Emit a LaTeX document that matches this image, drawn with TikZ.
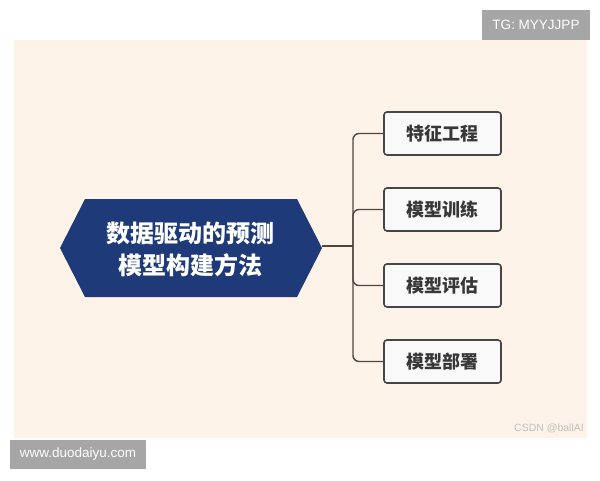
\documentclass[tikz,border=0pt]{standalone}
\usepackage{fontspec}
\setmainfont{Liberation Sans}
\newfontfamily\cjk{Noto Sans CJK SC}
\usetikzlibrary{shapes.geometric}
\definecolor{cream}{RGB}{253,243,232}
\definecolor{navy}{RGB}{30,58,120}
\definecolor{badge}{RGB}{166,166,166}
\definecolor{boxline}{RGB}{70,70,70}
\definecolor{boxfill}{RGB}{249,249,249}
\definecolor{linkc}{RGB}{80,70,65}
\definecolor{txt}{RGB}{55,55,55}
\tikzset{
  leaf/.style={draw=boxline, line width=1.6pt, fill=boxfill, rounded corners=3pt,
    minimum width=117pt, minimum height=43pt, inner sep=0pt,
    font=\cjk\bfseries\fontsize{18}{20}\selectfont, text=txt},
  link/.style={draw=linkc, line width=1.4pt, rounded corners=6pt},
  badgebox/.style={fill=badge, text=white, inner sep=0pt, font=\fontsize{13.5}{15}\selectfont}
}
\begin{document}
\begin{tikzpicture}[x=1pt,y=-1pt]
\useasboundingbox (0,0) rectangle (600,480);
\fill[white] (0,0) rectangle (600,480);
\fill[cream] (14,40) rectangle (587,438);
% badges
\node[badgebox, minimum width=108pt, minimum height=30pt] (tg) at (536,25) {TG: MYYJJPP};
\node[badgebox, minimum width=136pt, minimum height=29pt] (www) at (78,454.5) {www.duodaiyu.com};
\node[text=black!25, font=\fontsize{10.5}{12}\selectfont, anchor=east, inner sep=0pt] (csdn) at (584,428) {CSDN @ballAI};
% hexagon
\fill[navy] (60,248) -- (85,199) -- (297,199) -- (322,248) -- (297,297) -- (85,297) -- cycle;
\coordinate (hexr) at (322,246);
\node[text=white, font=\cjk\bfseries\fontsize{24}{32}\selectfont, align=center] (root) at (190,249) {数据驱动的预测\\模型构建方法};
% leaves
\node[leaf] (l1) at (442.5,133.5) {特征工程};
\node[leaf] (l2) at (442.5,209.5) {模型训练};
\node[leaf] (l3) at (442.5,285.5) {模型评估};
\node[leaf] (l4) at (442.5,361.5) {模型部署};
\coordinate (trunk) at (353,246);
\draw[link] (hexr) -- (trunk);
\draw[link] (l1.west) -| (trunk);
\draw[link] (l4.west) -| (trunk);
\draw[link] (l2.west) -| (trunk);
\draw[link] (l3.west) -| (trunk);
\end{tikzpicture}
\end{document}
